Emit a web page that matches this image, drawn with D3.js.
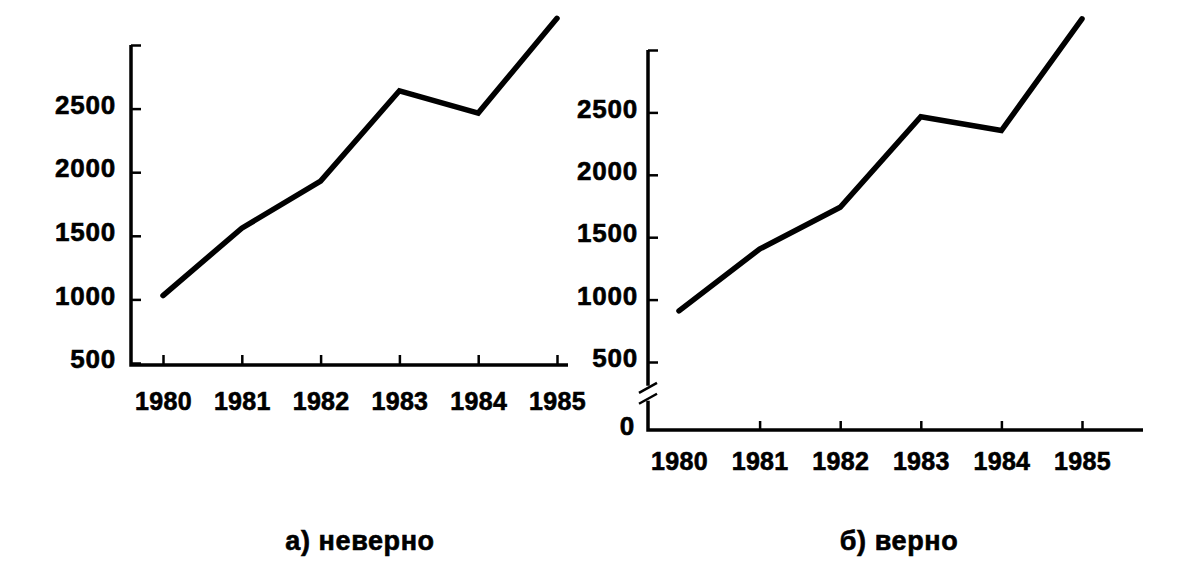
<!DOCTYPE html>
<html>
<head>
<meta charset="utf-8">
<script src="https://cdn.jsdelivr.net/npm/d3@7"></script>
<style>
  html, body { margin: 0; padding: 0; background: #fff; }
  svg { display: block; }
  text { font-family: "Liberation Sans", Arial, sans-serif; font-weight: bold; fill: #000;
         stroke: #000; stroke-width: 0.6px; }
</style>
</head>
<body>
<svg id="chart" width="1195" height="562"></svg>
<script>
// ---- data ----
const years = ["1980", "1981", "1982", "1983", "1984", "1985"];
const valuesWrong = [1030, 1560, 1930, 2640, 2465, 3210];
const valuesRight = [910, 1405, 1740, 2465, 2355, 3250];
const yTicksWrong = [500, 1000, 1500, 2000, 2500, 3000];
const yTicksRight = [0, 500, 1000, 1500, 2000, 2500, 3000];
const captionWrong = "а) неверно";
const captionRight = "б) верно";

const svg = d3.select("#chart");
const fmt = d => (d === 3000 ? "" : String(d));

// ---------- panel a (wrong: axis starts at 500) ----------
(function () {
  const axX = 131, axBottom = 365, axTop = 45, axRightEnd = 568;
  const x = d3.scalePoint().domain(years).range([163, 557]);
  const y = d3.scaleLinear().domain([500, 3000]).range([363, axTop]);
  const g = svg.append("g");

  const ya = g.append("g").attr("transform", `translate(${axX},0)`)
    .call(d3.axisLeft(y).tickValues(yTicksWrong).tickFormat(fmt)
      .tickSizeInner(-10).tickSizeOuter(0).tickPadding(15));
  ya.select(".domain").remove();
  ya.selectAll(".tick line").attr("stroke", "#000").attr("stroke-width", 2.5);
  ya.selectAll(".tick text").attr("font-size", 26).attr("letter-spacing", 0.8).attr("dy", "0.18em");

  const xa = g.append("g").attr("transform", `translate(0,${axBottom})`)
    .call(d3.axisBottom(x).tickSizeInner(-10).tickSizeOuter(0).tickPadding(27));
  xa.select(".domain").remove();
  xa.selectAll(".tick line").attr("stroke", "#000").attr("stroke-width", 2.5);
  xa.selectAll(".tick text").attr("font-size", 25).attr("letter-spacing", 0.3);

  g.append("path")
    .attr("d", `M${axX},${axTop} V${axBottom} H${axRightEnd}`)
    .attr("fill", "none").attr("stroke", "#000").attr("stroke-width", 3.5);

  g.append("path")
    .datum(valuesWrong)
    .attr("d", d3.line().x((d, i) => x(years[i])).y(d => y(d)))
    .attr("fill", "none").attr("stroke", "#000").attr("stroke-width", 5.5)
    .attr("stroke-linecap", "round").attr("stroke-linejoin", "miter");

  g.append("text").attr("x", 360).attr("y", 550).attr("text-anchor", "middle")
    .attr("font-size", 27).attr("letter-spacing", 0.6).text(captionWrong);
})();

// ---------- panel b (right: axis starts at 0 with a break) ----------
(function () {
  const axX = 648, axBottom = 430, axTop = 50, axRightEnd = 1143;
  const x = d3.scalePoint().domain(years).range([679, 1082]);
  const y = d3.scaleLinear().domain([0, 500, 3000]).range([axBottom, 362, axTop]);
  const g = svg.append("g");

  const ya = g.append("g").attr("transform", `translate(${axX},0)`)
    .call(d3.axisLeft(y).tickValues(yTicksRight).tickFormat(fmt)
      .tickSizeInner(-10).tickSizeOuter(0).tickPadding(10));
  ya.select(".domain").remove();
  ya.selectAll(".tick line").attr("stroke", "#000").attr("stroke-width", 2.5)
    .filter(d => d === 0).remove();
  ya.selectAll(".tick text").attr("font-size", 26).attr("letter-spacing", 0.8).attr("dy", "0.18em");
  ya.selectAll(".tick").filter(d => d === 0).select("text").attr("dx", -3);

  const xa = g.append("g").attr("transform", `translate(0,${axBottom})`)
    .call(d3.axisBottom(x).tickSizeInner(-9).tickSizeOuter(0).tickPadding(22));
  xa.select(".domain").remove();
  xa.selectAll(".tick line").attr("stroke", "#000").attr("stroke-width", 2.5)
    .filter(d => d === years[0]).remove();
  xa.selectAll(".tick text").attr("font-size", 25).attr("letter-spacing", 0.3);

  const b1 = y(310), b2 = y(230);
  g.append("path")
    .attr("d", `M${axX},${axTop} V${b1 - 2} M${axX},${b2 + 2} V${axBottom} H${axRightEnd}`)
    .attr("fill", "none").attr("stroke", "#000").attr("stroke-width", 3.5);
  [b1, b2].forEach(by => {
    g.append("line")
      .attr("x1", axX - 9).attr("y1", by + 5)
      .attr("x2", axX + 9).attr("y2", by - 5)
      .attr("stroke", "#000").attr("stroke-width", 2.5);
  });

  g.append("path")
    .datum(valuesRight)
    .attr("d", d3.line().x((d, i) => x(years[i])).y(d => y(d)))
    .attr("fill", "none").attr("stroke", "#000").attr("stroke-width", 5.5)
    .attr("stroke-linecap", "round").attr("stroke-linejoin", "miter");

  g.append("text").attr("x", 899).attr("y", 550).attr("text-anchor", "middle")
    .attr("font-size", 27).attr("letter-spacing", 0.6).text(captionRight);
})();
</script>
</body>
</html>
